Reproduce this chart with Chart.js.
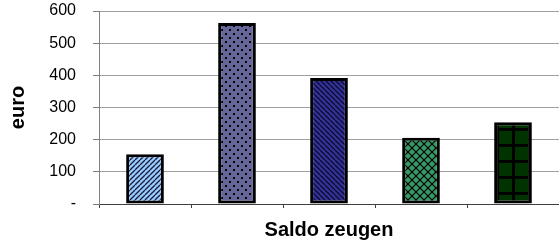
<!DOCTYPE html>
<html>
<head>
<meta charset="utf-8">
<script src="https://cdn.jsdelivr.net/npm/chart.js@4/dist/chart.umd.min.js"></script>
<style>
  html, body { margin: 0; padding: 0; background: #fff; }
  #wrap { width: 559px; height: 248px; position: relative; }
</style>
</head>
<body>
<div id="wrap"><canvas id="c" width="559" height="248"></canvas></div>
<script>
const categories = ['A', 'B', 'C', 'D', 'E'];
const values = [155, 563, 392, 206, 254];
const yTickValues = [0, 100, 200, 300, 400, 500, 600];
const yTickLabels = ['-', '100', '200', '300', '400', '500', '600'];
const xTitle = 'Saldo zeugen';
const yTitle = 'euro';

function makePattern(size, bg, draw) {
  const c = document.createElement('canvas');
  c.width = size; c.height = size;
  const g = c.getContext('2d');
  g.fillStyle = bg;
  g.fillRect(0, 0, size, size);
  draw(g, size);
  return g.createPattern(c, 'repeat');
}
function diag(g, s, up, color, w) {
  g.strokeStyle = color; g.lineWidth = w;
  for (let o = -s; o <= s; o += s) {
    g.beginPath();
    if (up) { g.moveTo(o, s); g.lineTo(o + s, 0); }
    else { g.moveTo(o, 0); g.lineTo(o + s, s); }
    g.stroke();
  }
}
const patterns = [
  makePattern(5, '#99CCFF', (g, s) => diag(g, s, true, '#1a1a3a', 1.3)),
  makePattern(8, '#666699', (g, s) => { g.fillStyle = '#000'; g.fillRect(1, 1, 2, 2); g.fillRect(5, 5, 2, 2); }),
  makePattern(5, '#333399', (g, s) => diag(g, s, false, '#0a0a30', 1.3)),
  makePattern(8, '#339966', (g, s) => { diag(g, s, true, '#000', 1.2); diag(g, s, false, '#000', 1.2); }),
  makePattern(16, '#003300', (g, s) => { g.fillStyle = '#000'; g.fillRect(0, 0, 3, s); g.fillRect(0, 0, s, 3); })
];

new Chart(document.getElementById('c'), {
  type: 'bar',
  data: {
    labels: categories,
    datasets: [{
      data: values,
      backgroundColor: patterns,
      borderColor: '#000',
      borderWidth: 3,
      borderSkipped: false,
      categoryPercentage: 1,
      barPercentage: 0.41
    }]
  },
  options: {
    responsive: false,
    animation: false,
    events: [],
    layout: { padding: { top: 11, right: -3, bottom: 0, left: 0 } },
    plugins: { legend: { display: false }, tooltip: { enabled: false } },
    scales: {
      x: {
        ticks: { display: false },
        grid: { display: true, drawOnChartArea: false, drawTicks: true, tickLength: 4, color: '#404040' },
        border: { display: true, color: '#404040', width: 1 },
        title: {
          display: true, text: xTitle, color: '#000',
          font: { family: 'Liberation Sans, Arial, sans-serif', size: 20, weight: 'bold' },
          padding: { top: 0, bottom: 6 }
        },
        afterFit: s => { s.height = 44; s.paddingLeft = 0; s.paddingRight = 0; }
      },
      y: {
        min: 0, max: 600,
        afterBuildTicks: s => { s.ticks = yTickValues.map(v => ({ value: v })); },
        ticks: {
          color: '#000', padding: 17,
          font: { family: 'Liberation Sans, Arial, sans-serif', size: 16 },
          callback: (v) => yTickLabels[yTickValues.indexOf(v)]
        },
        grid: { color: '#A0A0A0', tickLength: 6, drawTicks: true, tickColor: '#808080' },
        border: { display: true, color: '#808080', width: 1 },
        title: {
          display: true, text: yTitle, color: '#000',
          font: { family: 'Liberation Sans, Arial, sans-serif', size: 20, weight: 'bold' },
          padding: { top: 6, bottom: 0 }
        },
        afterFit: s => { s.width = 99; s.paddingTop = 0; s.paddingBottom = 0; }
      }
    }
  }
});
</script>
</body>
</html>
